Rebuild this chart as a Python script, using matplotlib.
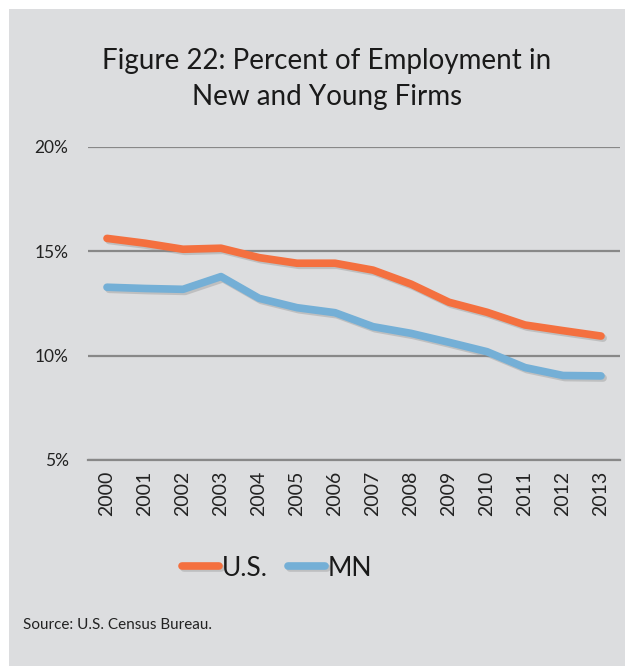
import matplotlib
matplotlib.use("Agg")
import matplotlib.pyplot as plt
import matplotlib.patheffects as pe
from matplotlib.patches import Rectangle

years = ["2000", "2001", "2002", "2003", "2004", "2005", "2006",
         "2007", "2008", "2009", "2010", "2011", "2012", "2013"]
us = [15.62, 15.39, 15.10, 15.15, 14.70, 14.43, 14.43,
      14.10, 13.43, 12.56, 12.08, 11.47, 11.20, 10.94]
mn = [13.28, 13.22, 13.18, 13.79, 12.75, 12.30, 12.06,
      11.39, 11.07, 10.64, 10.19, 9.43, 9.05, 9.03]
yticks = [5, 10, 15, 20]
title = "Figure 22: Percent of Employment in\nNew and Young Firms"
source = "Source: U.S. Census Bureau."

plt.rcParams['font.family'] = ['Lato', 'DejaVu Sans']
WEIGHT = "normal"

W, H = 625, 666
fig = plt.figure(figsize=(W / 100, H / 100), dpi=100)
fig.patch.set_facecolor("white")
fig.patches.append(Rectangle((9 / W, 0), 1 - 9 / W, 1 - 9 / H,
                             transform=fig.transFigure, facecolor="#DCDDDF",
                             edgecolor="none", zorder=-10))

ax = fig.add_axes([88 / W, 1 - 460 / H, (620 - 88) / W, (460 - 147) / H])
ax.set_facecolor("none")
x = list(range(len(years)))
shadow = [pe.SimpleLineShadow(offset=(1.5, -1.5), shadow_color="#888888", alpha=0.35), pe.Normal()]
ax.plot(x, us, color="#F4703F", lw=5.5, solid_capstyle="round", solid_joinstyle="round",
        label="U.S.", path_effects=shadow, zorder=3)
ax.plot(x, mn, color="#74AFD6", lw=5.5, solid_capstyle="round", solid_joinstyle="round",
        label="MN", path_effects=shadow, zorder=3)

ax.set_xlim(-0.5, len(years) - 0.5)
ax.set_ylim(5, 20)
ax.set_yticks(yticks)
ax.set_yticklabels([f"{v}%" for v in yticks])
ax.set_xticks(x)
ax.set_xticklabels(years, rotation=90)
ax.grid(axis="y", color="#888888", lw=1.6)
ax.set_axisbelow(True)
for s in ["top", "right", "left"]:
    ax.spines[s].set_visible(False)
ax.spines["bottom"].set_color("#888888")
ax.spines["bottom"].set_linewidth(1.6)
ax.tick_params(axis="both", length=0, colors="#222222")
ax.tick_params(axis="y", pad=14, labelsize=12.5)
ax.tick_params(axis="x", pad=8, labelsize=14)
for lab in ax.get_xticklabels() + ax.get_yticklabels():
    lab.set_fontweight(WEIGHT)

fig.text(327 / W, 1 - 79 / H, title, ha="center", va="center", fontsize=20,
         fontweight=WEIGHT, color="#1a1a1a", linespacing=1.5)

leg = fig.legend(loc="center", bbox_to_anchor=(277 / W, 1 - 568 / H), ncol=2,
                 frameon=False, fontsize=19, handlelength=1.4, handletextpad=0.12,
                 columnspacing=0.75)
for t in leg.get_texts():
    t.set_fontweight(WEIGHT)
    t.set_color("#1a1a1a")

fig.text(23 / W, 1 - 625 / H, source, ha="left", va="center", fontsize=11,
         fontweight=WEIGHT, color="#222222")

fig.savefig("out.png", dpi=100, facecolor=fig.get_facecolor())
